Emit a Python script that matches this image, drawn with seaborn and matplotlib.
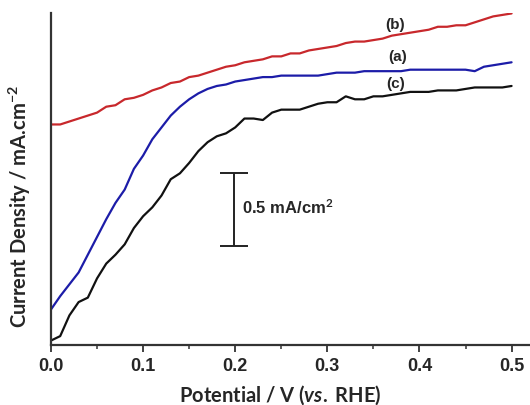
import pandas as pd
import matplotlib
matplotlib.use("Agg")
import matplotlib.pyplot as plt
import seaborn as sns

# potential (V vs. RHE), shared by the three curves
potential = [0.00, 0.01, 0.02, 0.03, 0.04, 0.05, 0.06, 0.07, 0.08, 0.09,
             0.10, 0.11, 0.12, 0.13, 0.14, 0.15, 0.16, 0.17, 0.18, 0.19,
             0.20, 0.21, 0.22, 0.23, 0.24, 0.25, 0.26, 0.27, 0.28, 0.29,
             0.30, 0.31, 0.32, 0.33, 0.34, 0.35, 0.36, 0.37, 0.38, 0.39,
             0.40, 0.41, 0.42, 0.43, 0.44, 0.45, 0.46, 0.47, 0.48, 0.49, 0.50]

# current density in mA/cm2 (arbitrary offset)
curve_a = [0.24, 0.33, 0.41, 0.49, 0.61, 0.73, 0.85, 0.96, 1.05, 1.19,
           1.28, 1.39, 1.47, 1.55, 1.61, 1.66, 1.70, 1.73, 1.75, 1.76,
           1.78, 1.79, 1.80, 1.81, 1.81, 1.82, 1.82, 1.82, 1.82, 1.82,
           1.83, 1.84, 1.84, 1.84, 1.85, 1.85, 1.85, 1.85, 1.85, 1.86,
           1.86, 1.86, 1.86, 1.86, 1.86, 1.86, 1.85, 1.88, 1.89, 1.90, 1.91]
curve_b = [1.49, 1.49, 1.51, 1.53, 1.55, 1.57, 1.61, 1.62, 1.66, 1.67,
           1.69, 1.72, 1.74, 1.77, 1.78, 1.81, 1.82, 1.84, 1.86, 1.88,
           1.89, 1.91, 1.92, 1.93, 1.95, 1.95, 1.97, 1.97, 1.99, 2.00,
           2.01, 2.02, 2.04, 2.05, 2.05, 2.06, 2.07, 2.09, 2.10, 2.11,
           2.12, 2.13, 2.15, 2.15, 2.16, 2.16, 2.18, 2.20, 2.22, 2.23, 2.24]
curve_c = [0.03, 0.06, 0.20, 0.29, 0.32, 0.45, 0.55, 0.61, 0.68, 0.79,
           0.87, 0.93, 1.01, 1.12, 1.16, 1.23, 1.31, 1.37, 1.41, 1.43,
           1.47, 1.53, 1.53, 1.52, 1.57, 1.59, 1.59, 1.59, 1.61, 1.63,
           1.64, 1.64, 1.68, 1.66, 1.66, 1.68, 1.68, 1.69, 1.70, 1.71,
           1.71, 1.71, 1.72, 1.72, 1.72, 1.73, 1.74, 1.74, 1.74, 1.74, 1.75]

labels = ["(a)", "(b)", "(c)"]
colors = ["#1c1ca8", "#c8282c", "#111111"]

n = len(potential)
df = pd.DataFrame({
    "Potential": potential * 3,
    "Current": curve_a + curve_b + curve_c,
    "Sample": [labels[0]] * n + [labels[1]] * n + [labels[2]] * n,
})

sns.set_theme(style="ticks")
plt.rcParams["font.family"] = ["Liberation Sans", "DejaVu Sans"]
plt.rcParams["mathtext.fontset"] = "custom"
plt.rcParams["mathtext.rm"] = "Lato:bold"
plt.rcParams["mathtext.it"] = "Lato:italic:bold"
plt.rcParams["mathtext.bf"] = "Lato:bold"

fig = plt.figure(figsize=(5.30, 4.06), dpi=100)
ax = fig.add_axes([0.0962, 0.1478, 0.9038, 0.8177])

sns.lineplot(data=df, x="Potential", y="Current", hue="Sample", palette=colors,
             linewidth=1.6, legend=False, ax=ax)

ax.set_xlim(0, 0.52)
ax.set_ylim(0, 2.243)
ax.set_xticks([0.0, 0.1, 0.2, 0.3, 0.4, 0.5])
ax.set_xticks([0.05, 0.15, 0.25, 0.35, 0.45], minor=True)
ax.set_xticklabels(["0.0", "0.1", "0.2", "0.3", "0.4", "0.5"], fontsize=13, fontweight="bold")
ax.set_yticks([])
ax.tick_params(axis="x", which="major", length=5, width=1.3, color="#333333")
ax.tick_params(axis="x", which="minor", length=3, width=1.1, color="#333333")
sns.despine(ax=ax)
for s in ["left", "bottom"]:
    ax.spines[s].set_linewidth(1.6)
    ax.spines[s].set_color("#333333")

ax.set_xlabel(r"Potential / V ($\it{vs.}$ RHE)", fontsize=14.5, fontweight="bold",
              family=["Lato", "DejaVu Sans"])
ax.set_ylabel(r"Current Density / mA.cm$^{-2}$", fontsize=14.5, fontweight="bold",
              family=["Lato", "DejaVu Sans"])
ax.xaxis.set_label_coords(0.478, -0.112)
ax.yaxis.set_label_coords(-0.038, 0.419)

# curve labels
ax.text(0.374, 2.168, "(b)", fontsize=11, fontweight="bold", ha="center", va="center")
ax.text(0.376, 1.953, "(a)", fontsize=11, fontweight="bold", ha="center", va="center")
ax.text(0.374, 1.770, "(c)", fontsize=11, fontweight="bold", ha="center", va="center")

# scale bar 0.5 mA/cm2
ax.errorbar([0.199], [0.916], yerr=[[0.245], [0.245]], color="#222222", capsize=10,
            elinewidth=1.4, capthick=1.4)
ax.text(0.207, 0.932, r"0.5 mA/cm$^2$", fontsize=12, fontweight="bold", ha="left", va="center")

fig.savefig("out.png", dpi=100)
